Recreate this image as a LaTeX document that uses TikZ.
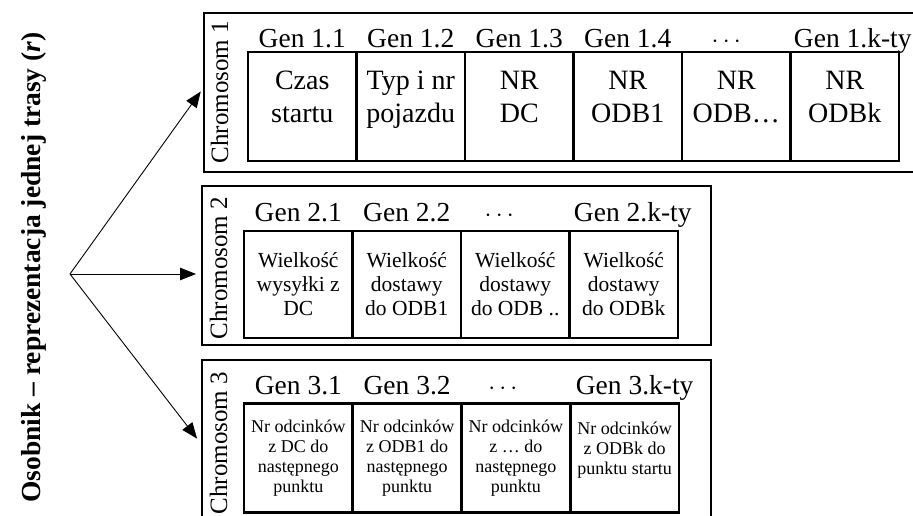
\documentclass[tikz,border=0pt]{standalone}
\usepackage{fontspec}
\setmainfont{Liberation Serif}
\usetikzlibrary{positioning, arrows.meta}

\begin{document}
\begin{tikzpicture}[x=1pt, y=-1pt]

\tikzset{chrom/.style = {draw, line width=2.6pt, anchor=north west, inner sep=0pt, outer sep=0pt}}
\tikzset{gen/.style = {draw, line width=2.6pt, inner sep=0pt, outer sep=0pt, align=center}}
\tikzset{genA/.style = {gen, minimum width=108.5pt, text height=71pt, text depth=38pt, font=\fontsize{28}{33}\selectfont}}
\tikzset{genB/.style = {gen, minimum width=108.5pt, minimum height=107pt, font=\fontsize{21.5}{24}\selectfont}}
\tikzset{genC/.style = {gen, minimum width=108.75pt, minimum height=109pt, font=\fontsize{18}{20}\selectfont}}
\tikzset{title/.style = {rotate=90, anchor=base, inner sep=0pt, font=\fontsize{27.5}{30}\selectfont\bfseries}}
\tikzset{chromname/.style = {rotate=90, anchor=base, inner sep=0pt, font=\fontsize{25}{28}\selectfont}}
\tikzset{genname/.style = {inner sep=0pt, text depth=0pt, font=\fontsize{27.5}{30}\selectfont}}
\tikzset{edge/.style = {-{Triangle[length=16pt, width=12.5pt]}, line width=0.9pt}}

\useasboundingbox (0,0) rectangle (913,516);
\clip (0,0) rectangle (913,516);

% individual
\node[title] (osob) at (40,267.5) {Osobnik – reprezentacja jednej trasy (\textit{r})};
\coordinate (o) at (70,274);

% chromosomes
\node[chrom, minimum width=716pt, minimum height=159pt] (c1) at (204,13) {};
\node[chrom, minimum width=509pt, minimum height=159pt] (c2) at (202,186) {};
\node[chrom, minimum width=509pt, minimum height=159pt] (c3) at (202,360) {};
\node[chromname] (n1) at (228,92) {Chromosom 1};
\node[chromname] (n2) at (227,268) {Chromosom 2};
\node[chromname] (n3) at (227,443) {Chromosom 3};

% genes of chromosome 1
\node[genA, anchor=north west] (g11) at (248,52) {Czas\\startu};
\node[genA, right=0pt of g11] (g12) {Typ i nr\\pojazdu};
\node[genA, right=0pt of g12] (g13) {NR\\DC};
\node[genA, right=0pt of g13] (g14) {NR\\ODB1};
\node[genA, right=0pt of g14] (g15) {NR\\ODB…};
\node[genA, right=0pt of g15] (g16) {NR\\ODBk};

% genes of chromosome 2
\node[genB, anchor=north west] (g21) at (244,231) {Wielkość\\wysyłki z\\DC};
\node[genB, right=0pt of g21] (g22) {Wielkość\\dostawy\\do ODB1};
\node[genB, right=0pt of g22] (g23) {Wielkość\\dostawy\\do ODB ..};
\node[genB, right=0pt of g23] (g24) {Wielkość\\dostawy\\do ODBk};

% genes of chromosome 3
\node[genC, anchor=north west] (g31) at (244,403.5) {Nr odcinków\\z DC do\\następnego\\punktu};
\node[genC, right=0pt of g31] (g32) {Nr odcinków\\z ODB1 do\\następnego\\punktu};
\node[genC, right=0pt of g32] (g33) {Nr odcinków\\z … do\\następnego\\punktu};
\node[genC, right=0pt of g33] (g34) {Nr odcinków\\z ODBk do\\punktu startu\\\mbox{}};

% gene names
\node[genname, above=4pt of g11] (l11) {Gen 1.1};
\node[genname, above=4pt of g12] (l12) {Gen 1.2};
\node[genname, above=4pt of g13] (l13) {Gen 1.3};
\node[genname, above=4pt of g14] (l14) {Gen 1.4};
\node[genname, above=4pt of g15, xshift=-10pt] (l15) {$\cdots$};
\node[genname, above=4pt of g16, xshift=8pt] (l16) {Gen 1.k-ty};
\node[genname, above=9pt of g21] (l21) {Gen 2.1};
\node[genname, above=9pt of g22] (l22) {Gen 2.2};
\node[genname, above=9pt of g23, xshift=-16pt] (l23) {$\cdots$};
\node[genname, above=9pt of g24, xshift=9pt] (l24) {Gen 2.k-ty};
\node[genname, above=8.5pt of g31] (l31) {Gen 3.1};
\node[genname, above=8.5pt of g32] (l32) {Gen 3.2};
\node[genname, above=8.5pt of g33, xshift=-13pt] (l33) {$\cdots$};
\node[genname, above=8.5pt of g34, xshift=10pt] (l34) {Gen 3.k-ty};

% arrows
\draw[edge, shorten >=5.5pt] (o) -- ([yshift=5.5pt]c1.west);
\draw[edge, shorten >=6pt] (o) -- (o -| c2.west);
\draw[edge, shorten >=8pt] (o) -- ([yshift=-5.5pt]c3.west);

\end{tikzpicture}
\end{document}
